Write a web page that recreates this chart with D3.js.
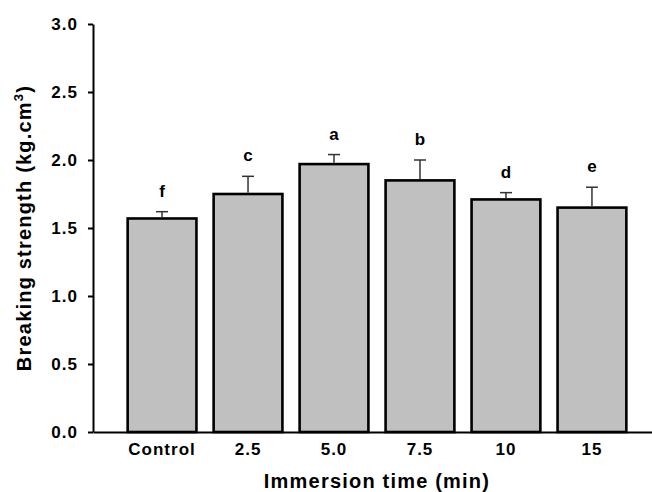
<!DOCTYPE html>
<html>
<head>
<meta charset="utf-8">
<script src="https://cdn.jsdelivr.net/npm/d3@7"></script>
<style>
  body { margin: 0; background: #fff; }
  text { font-family: "Liberation Sans", Arial, sans-serif; font-weight: bold; fill: #000; }
</style>
</head>
<body>
<div id="chart"></div>
<script>
// Breaking strength vs immersion time

let categories = ["Control", "2.5", "5.0", "7.5", "10", "15"];
let means = [1.57, 1.75, 1.97, 1.85, 1.71, 1.65];
let errors = [0.05, 0.13, 0.07, 0.15, 0.05, 0.15];
let letters = ["f", "c", "a", "b", "d", "e"];
let yTicks = [0, 0.5, 1.0, 1.5, 2.0, 2.5, 3.0];

let svgWidth = 652;
let svgHeight = 492;

let svg = d3.select("#chart")
  .append("svg")
  .attr("width", svgWidth)
  .attr("height", svgHeight);

let data = categories.map((c, i) => ({ cat: c, mean: means[i], err: errors[i], letter: letters[i] }));

// scales
let x = d3.scaleBand()
  .domain(categories)
  .range([93, 661])
  .paddingInner(0.2)
  .paddingOuter(0.403);

let y = d3.scaleLinear()
  .domain([0, 3])
  .range([432, 24]);

// bars
svg.selectAll("rect.bar")
  .data(data)
  .enter()
  .append("rect")
  .attr("class", "bar")
  .attr("x", d => x(d.cat))
  .attr("y", d => y(d.mean))
  .attr("width", x.bandwidth())
  .attr("height", d => y(0) - y(d.mean))
  .attr("fill", "#c0c0c0")
  .attr("stroke", "#000")
  .attr("stroke-width", 2.6);

// error bars (upper only)
let capHalf = 6;
let eb = svg.selectAll("g.err")
  .data(data)
  .enter()
  .append("g")
  .attr("class", "err")
  .attr("stroke", "#333")
  .attr("stroke-width", 1.5);

eb.append("line")
  .attr("x1", d => x(d.cat) + x.bandwidth() / 2)
  .attr("x2", d => x(d.cat) + x.bandwidth() / 2)
  .attr("y1", d => y(d.mean) - 1.3)
  .attr("y2", d => y(d.mean + d.err));

eb.append("line")
  .attr("x1", d => x(d.cat) + x.bandwidth() / 2 - capHalf)
  .attr("x2", d => x(d.cat) + x.bandwidth() / 2 + capHalf)
  .attr("y1", d => y(d.mean + d.err))
  .attr("y2", d => y(d.mean + d.err));

// significance letters
svg.selectAll("text.sig")
  .data(data)
  .enter()
  .append("text")
  .attr("class", "sig")
  .attr("x", d => x(d.cat) + x.bandwidth() / 2)
  .attr("y", d => y(d.mean + d.err) - 15)
  .attr("text-anchor", "middle")
  .style("font-size", "17px")
  .text(d => d.letter);

// y axis
let yAxis = svg.append("g")
  .attr("transform", "translate(93,0)")
  .call(d3.axisLeft(y)
    .tickValues(yTicks)
    .tickFormat(d3.format(".1f"))
    .tickSizeInner(5)
    .tickSizeOuter(0)
    .tickPadding(10));

// x axis
let xAxis = svg.append("g")
  .attr("transform", "translate(0,432)")
  .call(d3.axisBottom(x)
    .tickSizeInner(0)
    .tickSizeOuter(0)
    .tickPadding(11));

svg.selectAll(".domain, .tick line")
  .attr("stroke", "#000")
  .attr("stroke-width", 2);

svg.selectAll(".tick text")
  .style("font-size", "17px")
  .style("letter-spacing", "1px")
  .style("font-family", "'Liberation Sans', Arial, sans-serif")
  .style("font-weight", "bold")
  .attr("fill", "#000");

// x axis title
svg.append("text")
  .attr("x", (x(categories[0]) + x(categories[5]) + x.bandwidth()) / 2)
  .attr("y", 488)
  .attr("text-anchor", "middle")
  .style("font-size", "20px")
  .style("letter-spacing", "1.2px")
  .text("Immersion time (min)");

// y axis title
let yTitle = svg.append("text")
  .attr("transform", "translate(31,228) rotate(-90)")
  .attr("text-anchor", "middle")
  .style("font-size", "20px")
  .style("letter-spacing", "1.2px");
yTitle.append("tspan").text("Breaking strength (kg.cm");
yTitle.append("tspan").attr("dy", -8).style("font-size", "13px").text("3");
yTitle.append("tspan").attr("dy", 8).text(")");
</script>
</body>
</html>
